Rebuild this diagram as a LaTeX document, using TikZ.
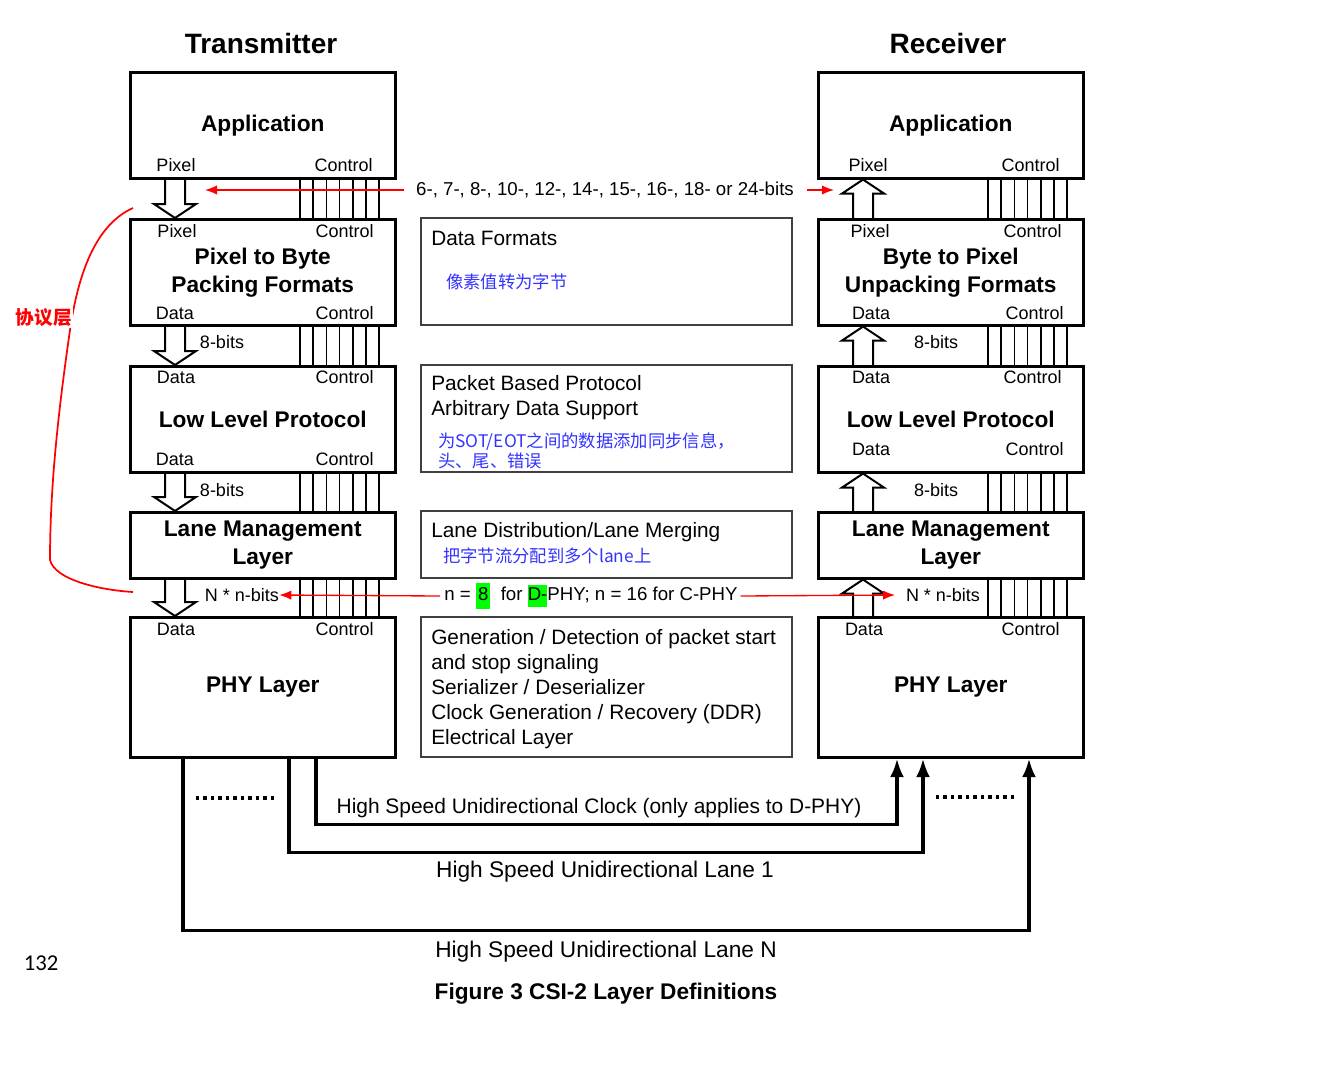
\documentclass[tikz,border=0pt]{standalone}
\usepackage{fontspec}
\setmainfont{Liberation Sans}
\newfontfamily\cjk{Noto Sans CJK SC}
\newfontfamily\pagefont{Carlito}
\usetikzlibrary{calc,arrows.meta}

\begin{document}
\begin{tikzpicture}[
  x=0.75pt, y=-0.75pt,
  layer/.style={draw, line width=1.9pt, minimum width=198.75pt, minimum height=79.5pt,
    anchor=north west, align=center, inner sep=0pt,
    font=\fontsize{17}{21}\selectfont\bfseries},
  thin layer/.style={layer, minimum height=49.5pt},
  phy layer/.style={layer, minimum height=105pt},
  note box/.style={draw=black!75, line width=1.2pt, minimum width=278.25pt,
    minimum height=80.25pt, anchor=north west, inner sep=0pt},
  port/.style={font=\fontsize{13.5}{16}\selectfont, inner sep=0pt},
  note/.style={font=\fontsize{15.6}{18.75}\selectfont, anchor=west, align=left, inner sep=0pt},
  cn/.style={font=\cjk\fontsize{13}{15}\selectfont, text=blue!80, anchor=west, align=left, inner sep=0pt},
  title/.style={font=\fontsize{21}{25}\selectfont\bfseries},
  lanelbl/.style={font=\fontsize{17}{20}\selectfont},
  hollow/.style={draw, line width=1.5pt},
  ctrl/.style={line width=1.3pt},
  redarr/.style={red, line width=1pt, -{Latex[length=9pt,width=7pt]}},
  lane/.style={line width=2.6pt, -{Latex[length=14pt,width=10.5pt]}},
  dots/.style={line width=2.6pt, dash pattern=on 2.6pt off 3pt},
]
  \useasboundingbox (0,0) rectangle (1331,1072);

  \node[title] (ttitle) at (261,43) {Transmitter};
  \node[title] (rtitle) at (948,43) {Receiver};

  % transmitter stack
  \node[layer] (tapp) at (129,71) {Application};
  \node[layer] (tpack) at (129,218) {Pixel to Byte\\Packing Formats};
  \node[layer] (tllp) at (129,365) {Low Level Protocol};
  \node[thin layer] (tlml) at (129,511) {Lane Management\\Layer};
  \node[phy layer] (tphy) at (129,616) {PHY Layer};

  % receiver stack
  \node[layer] (rapp) at (817,71) {Application};
  \node[layer] (rpack) at (817,218) {Byte to Pixel\\Unpacking Formats};
  \node[layer] (rllp) at (817,365) {Low Level Protocol};
  \node[thin layer] (rlml) at (817,511) {Lane Management\\Layer};
  \node[phy layer] (rphy) at (817,616) {PHY Layer};

  % ports, transmitter side
  \node[port] (tapp-p) at ($(tapp.south west)+(47,-14)$) {Pixel};
  \node[port] (tapp-c) at ($(tapp.south east)+(-53,-14)$) {Control};
  \node[port] (tpack-pi) at ($(tpack.north west)+(48,13)$) {Pixel};
  \node[port] (tpack-ci) at ($(tpack.north east)+(-52,13)$) {Control};
  \node[port] (tpack-po) at ($(tpack.south west)+(46,-13)$) {Data};
  \node[port] (tpack-co) at ($(tpack.south east)+(-52,-13)$) {Control};
  \node[port] (tllp-pi) at ($(tllp.north west)+(47,12)$) {Data};
  \node[port] (tllp-ci) at ($(tllp.north east)+(-52,12)$) {Control};
  \node[port] (tllp-po) at ($(tllp.south west)+(46,-14)$) {Data};
  \node[port] (tllp-co) at ($(tllp.south east)+(-52,-14)$) {Control};
  \node[port] (tphy-pi) at ($(tphy.north west)+(47,13)$) {Data};
  \node[port] (tphy-ci) at ($(tphy.north east)+(-52,13)$) {Control};

  % ports, receiver side
  \node[port] (rapp-p) at ($(rapp.south west)+(51,-14)$) {Pixel};
  \node[port] (rapp-c) at ($(rapp.south east)+(-54,-14)$) {Control};
  \node[port] (rpack-pi) at ($(rpack.north west)+(53,13)$) {Pixel};
  \node[port] (rpack-ci) at ($(rpack.north east)+(-52,13)$) {Control};
  \node[port] (rpack-po) at ($(rpack.south west)+(54,-13)$) {Data};
  \node[port] (rpack-co) at ($(rpack.south east)+(-50,-13)$) {Control};
  \node[port] (rllp-pi) at ($(rllp.north west)+(54,12)$) {Data};
  \node[port] (rllp-ci) at ($(rllp.north east)+(-52,12)$) {Control};
  \node[port] (rllp-po) at ($(rllp.south west)+(54,-24)$) {Data};
  \node[port] (rllp-co) at ($(rllp.south east)+(-50,-24)$) {Control};
  \node[port] (rphy-pi) at ($(rphy.north west)+(47,13)$) {Data};
  \node[port] (rphy-ci) at ($(rphy.north east)+(-54,13)$) {Control};

  % data arrows and control buses
  \foreach \a/\b in {tapp/tpack, tpack/tllp, tllp/tlml, tlml/tphy} {
    \draw[hollow] let \p1=($(\a.south west)+(46,0)$), \p2=(\b.north) in
      (\x1-7.5pt,\y1) -- (\x1-7.5pt,\y2+10.5pt) -- (\x1-15.75pt,\y2+10.5pt) -- (\x1,\y2)
      -- (\x1+15.75pt,\y2+10.5pt) -- (\x1+7.5pt,\y2+10.5pt) -- (\x1+7.5pt,\y1);
    \foreach \k in {0,...,6}
      \draw[ctrl] ($(\a.south west)+(171+13.2*\k,0)$) -- ($(\b.north west)+(171+13.2*\k,0)$);
  }
  \foreach \a/\b in {rpack/rapp, rllp/rpack, rlml/rllp, rphy/rlml} {
    \draw[hollow] let \p1=($(\a.north west)+(46,0)$), \p2=(\b.south) in
      (\x1-7.5pt,\y1) -- (\x1-7.5pt,\y2-10.5pt) -- (\x1-15.75pt,\y2-10.5pt) -- (\x1,\y2)
      -- (\x1+15.75pt,\y2-10.5pt) -- (\x1+7.5pt,\y2-10.5pt) -- (\x1+7.5pt,\y1);
    \foreach \k in {0,...,6}
      \draw[ctrl] ($(\b.south west)+(171+13.2*\k,0)$) -- ($(\a.north west)+(171+13.2*\k,0)$);
  }

  \node[port] (tb1) at (222,342) {8-bits};
  \node[port] (tb2) at (222,490) {8-bits};
  \node[port] (rb1) at (936,342) {8-bits};
  \node[port] (rb2) at (936,490) {8-bits};
  \node[port] (tnb) at (242,595) {N * n-bits};
  \node[port] (rnb) at (943,595) {N * n-bits};

  % middle column
  \node[note box] (fmt) at (420,217) {};
  \node[note box] (pkt) at (420,364) {};
  \node[note box, minimum height=50.25pt] (dist) at (420,510) {};
  \node[note box, minimum height=105pt] (gen) at (420,616) {};
  \node[note] (fmt-t) at ($(fmt.north west)+(11,21)$) {Data Formats};
  \node[cn] (fmt-c) at ($(fmt.north west)+(26,65)$) {像素值转为字节};
  \node[note] (pkt-t) at ($(pkt.north west)+(11,34)$) {Packet Based Protocol\\Arbitrary Data Support};
  \node[cn] (pkt-c) at ($(pkt.north west)+(18,87)$) {为SOT/EOT之间的数据添加同步信息，\\头、尾、错误};
  \node[note] (dist-t) at ($(dist.north west)+(11,22)$) {Lane Distribution/Lane Merging};
  \node[cn] (dist-c) at ($(dist.north west)+(23,46)$) {把字节流分配到多个lane上};
  \node[note] (gen-t) at ($(gen.north west)+(11,73)$) {Generation / Detection of packet start\\and stop signaling\\Serializer / Deserializer\\Clock Generation / Recovery (DDR)\\Electrical Layer};

  % red notes
  \node[port, font=\fontsize{14}{16}\selectfont] (bits) at (605,190) {6-, 7-, 8-, 10-, 12-, 14-, 15-, 16-, 18- or 24-bits};
  \coordinate (bits-l) at (205,190);
  \coordinate (bits-r) at (834,190);
  \draw[redarr] ([xshift=-9pt]bits.west) -- (bits-l);
  \draw[redarr] ([xshift=10pt]bits.east) -- (bits-r);
  \node[port, font=\fontsize{14}{16}\selectfont] (nnote) at (591,596) {n = {\setlength{\fboxsep}{1.5pt}\colorbox{green}{\strut 8}}\ \ for {\setlength{\fboxsep}{0pt}\colorbox{green}{\strut D-}}PHY; n = 16 for C-PHY};
  \draw[redarr] ([xshift=-3pt]nnote.west) -- (tnb.east);
  \draw[redarr] ([xshift=2pt]nnote.east) -- ([xshift=-8pt]rnb.west);

  % lanes
  \coordinate (clk-s) at ($(tphy.south west)+(187,0)$);
  \coordinate (clk-e) at ($(rphy.south west)+(80,0)$);
  \coordinate (ln1-s) at ($(tphy.south west)+(160,0)$);
  \coordinate (ln1-e) at ($(rphy.south west)+(106,0)$);
  \coordinate (lnN-s) at ($(tphy.south west)+(54,0)$);
  \coordinate (lnN-e) at ($(rphy.south west)+(212,0)$);
  \draw[lane] (clk-s) -- ++(0,66) -| (clk-e);
  \draw[lane] (ln1-s) -- ++(0,94) -| (ln1-e);
  \draw[lane] (lnN-s) -- ++(0,172) -| (lnN-e);
  \draw[dots] (196,798) -- (276,798);
  \draw[dots] (936,797) -- (1016,797);
  \node[font=\fontsize{15.7}{18}\selectfont] (clk-l) at (599,808) {High Speed Unidirectional Clock (only applies to D-PHY)};
  \node[lanelbl] (ln1-l) at (605,872) {High Speed Unidirectional Lane 1};
  \node[lanelbl] (lnN-l) at (606,952) {High Speed Unidirectional Lane N};
  \node[lanelbl, font=\fontsize{17}{20}\selectfont\bfseries] (cap) at (606,994) {Figure 3 CSI-2 Layer Definitions};
  \node[font=\pagefont\fontsize{17}{20}\selectfont] (pg) at (41,963) {132};

  % protocol layer brace
  \draw[red, line width=1.3pt] (133,208) .. controls (95,225) and (78,275) .. (70,330)
    .. controls (60,400) and (50,480) .. (50,560) .. controls (55,580) and (100,590) .. (133,592);
  \node[font=\cjk\bfseries\fontsize{14}{16}\selectfont, text=red, fill=white, inner sep=1pt] (proto) at (44,318) {协议层};
\end{tikzpicture}
\end{document}
